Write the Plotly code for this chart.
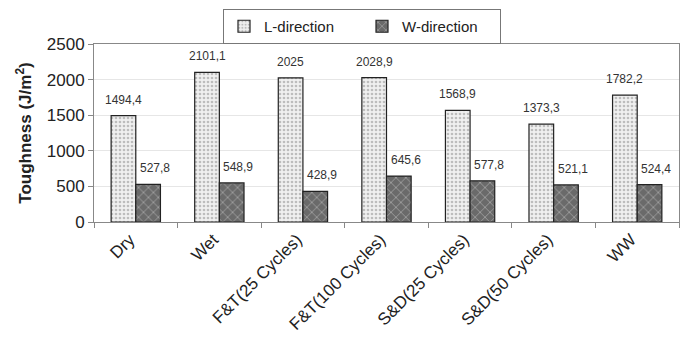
import plotly.graph_objects as go

categories = ["Dry", "Wet", "F&T(25 Cycles)", "F&T(100 Cycles)",
              "S&D(25 Cycles)", "S&D(50 Cycles)", "WW"]
l_direction = [1494.4, 2101.1, 2025.0, 2028.9, 1568.9, 1373.3, 1782.2]
w_direction = [527.8, 548.9, 428.9, 645.6, 577.8, 521.1, 524.4]
y_ticks = [0, 500, 1000, 1500, 2000, 2500]

FONT = "Arial, Liberation Sans, sans-serif"


def fmt(v):
    s = f"{v:.1f}"
    if s.endswith(".0"):
        s = s[:-2]
    return s.replace(".", ",")


fig = go.Figure()
fig.add_trace(go.Bar(
    name="L-direction", x=categories, y=l_direction,
    marker=dict(color="#f2f2f2", line=dict(color="#222", width=1.2),
                pattern=dict(shape=".", fgcolor="#8a8a8a", bgcolor="#f0f0f0",
                             size=4, solidity=0.35)),
))
fig.add_trace(go.Bar(
    name="W-direction", x=categories, y=w_direction,
    marker=dict(color="#6e6e6e", line=dict(color="#222", width=1.2),
                pattern=dict(shape="x", fgcolor="#cfcfcf", bgcolor="#6a6a6a",
                             size=7, solidity=0.25)),
))

# value labels above each bar
annotations = []
for i, c in enumerate(categories):
    for val, dx in ((l_direction[i], -12.3), (w_direction[i], 19)):
        annotations.append(dict(
            x=c, y=val, xref="x", yref="y", text=fmt(val), showarrow=False,
            xshift=dx, yshift=7, yanchor="bottom",
            font=dict(family=FONT, size=12, color="#333"),
        ))

fig.update_layout(
    width=690, height=350,
    margin=dict(l=94, r=11, t=43, b=128),
    paper_bgcolor="white", plot_bgcolor="white",
    barmode="group", bargap=0.41, bargroupgap=0,
    font=dict(family=FONT, color="#222"),
    showlegend=True,
    legend=dict(orientation="h", xref="container", yref="container",
                x=223 / 690, xanchor="left", y=1 - 9 / 350, yanchor="top",
                bordercolor="#777", borderwidth=1,
                font=dict(family=FONT, size=15, color="#222"),
                itemwidth=30, entrywidth=93, entrywidthmode="pixels",
                tracegroupgap=0),
    annotations=annotations,
)

fig.update_xaxes(
    tickangle=-45, tickfont=dict(family=FONT, size=17, color="#222"),
    ticklabelshift=-6,
    showline=True, linecolor="#888", linewidth=1, mirror=True,
    ticks="outside", ticklen=5, tickcolor="#888", tickson="boundaries",
    showgrid=False, automargin=False,
)
fig.update_yaxes(
    range=[0, 2500], tickvals=y_ticks, tickfont=dict(family=FONT, size=17, color="#222"),
    title=dict(text="<b>Toughness (J/m<sup>2</sup>)</b>",
               font=dict(family=FONT, size=17, color="#222"), standoff=10),
    showline=True, linecolor="#888", linewidth=1, mirror=True,
    ticks="outside", ticklen=5, tickcolor="#888",
    showgrid=True, gridcolor="#e6e6e6", gridwidth=1, zeroline=False,
    automargin=False,
)

fig.write_html("out.html")
